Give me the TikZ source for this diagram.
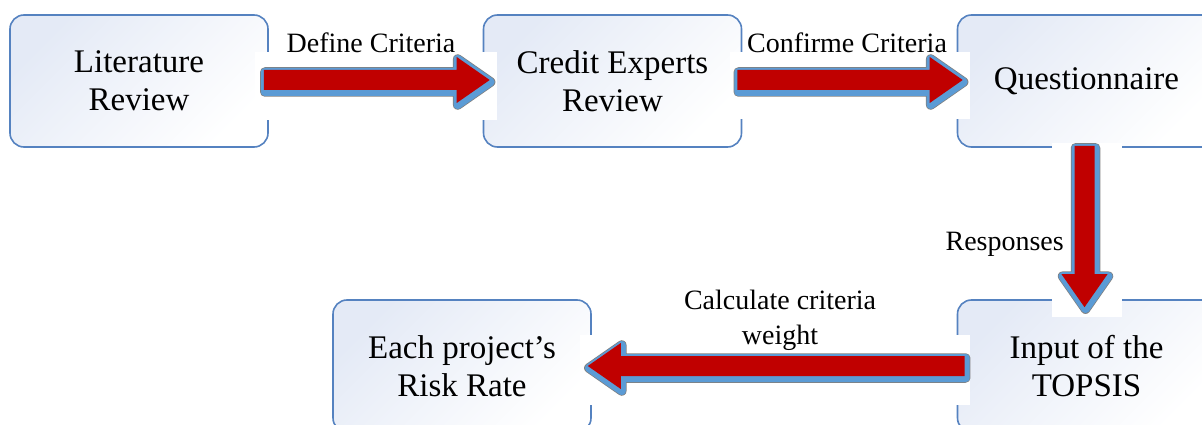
\documentclass[tikz,border=0pt]{standalone}
\usepackage{fontspec}
\setmainfont{Liberation Serif}
\usetikzlibrary{calc}

\definecolor{boxline}{RGB}{85,130,192}
\definecolor{boxtint}{RGB}{228,234,246}
\definecolor{arrowred}{RGB}{192,0,0}
\definecolor{arrowblue}{RGB}{91,155,213}
\definecolor{arrowring}{RGB}{128,128,128}

% block arrow geometry
\def\arwShaft{10pt}
\def\arwHeadHalf{23pt}
\def\arwHeadLen{33pt}

% outline of a block arrow: #1 tail centre, #2 tip, #3 centre of the head base
\newcommand\arwPoly[3]{($(#1)!\arwShaft!90:(#2)$) -- ($(#3)!\arwShaft!90:(#2)$)
  -- ($(#3)!\arwHeadHalf!90:(#2)$) -- (#2) -- ($(#3)!\arwHeadHalf!-90:(#2)$)
  -- ($(#3)!\arwShaft!-90:(#2)$) -- ($(#1)!\arwShaft!-90:(#2)$) -- cycle}

% red block arrow with a blue drop shadow, from #1 to #2
\newcommand\blockarrow[2]{%
  \coordinate (arw-st) at ($(#1)+(1,2)$);
  \coordinate (arw-sp) at ($(#2)+(1,2)$);
  \coordinate (arw-sb) at ($(arw-sp)!\arwHeadLen!(arw-st)$);
  \coordinate (arw-b) at ($(#2)!\arwHeadLen!(#1)$);
  \filldraw[fill=arrowring, draw=arrowring, line width=9.5pt, line join=round] \arwPoly{arw-st}{arw-sp}{arw-sb};
  \filldraw[fill=arrowblue, draw=arrowblue, line width=8pt, line join=round] \arwPoly{arw-st}{arw-sp}{arw-sb};
  \fill[arrowred] \arwPoly{#1}{#2}{arw-b};
}

\tikzset{
  box/.style={draw=boxline, line width=1.6pt, rounded corners=14pt,
    minimum width=258pt, minimum height=132pt, align=center,
    font=\fontsize{33}{38}\selectfont,
    left color=boxtint, right color=white, shading angle=45},
  lbl/.style={align=center, inner sep=0pt, font=\fontsize{28}{35}\selectfont},
  gap/.style={fill=white}
}

\begin{document}
\begin{tikzpicture}[x=1pt, y=-1pt]
  \path[use as bounding box] (0,0) rectangle (1202,425);
  \clip (0,0) rectangle (1202,425);

  % process steps
  \node[box] (lit)    at (139,81)    {Literature\\Review};
  \node[box] (credit) at (612.5,81)  {Credit Experts\\Review};
  \node[box] (quest)  at (1086.5,81) {Questionnaire};
  \node[box] (topsis) at (1086.5,366) {Input of the\\TOPSIS};
  \node[box] (risk)   at (462,366)   {Each project’s\\Risk Rate};

  % white gaps in the borders where the arrows pass
  \fill[gap] (255,52) rectangle (497,120);
  \fill[gap] (730,52) rectangle (970,119);
  \fill[gap] (1052,143) rectangle (1122,317);
  \fill[gap] (580,335) rectangle (970,405);

  % arrow end points
  \coordinate (a1s) at ($(lit.east)+(-5,-1)$);
  \coordinate (a1e) at ($(credit.west)+(7,-1)$);
  \coordinate (a2s) at ($(credit.east)+(-5,-1)$);
  \coordinate (a2e) at ($(quest.west)+(6,-1)$);
  \coordinate (a3s) at ($(quest.south)+(-2,-2)$);
  \coordinate (a3e) at ($(topsis.north)+(-2,8)$);
  \coordinate (a4s) at ($(topsis.west)+(8,0)$);
  \coordinate (a4e) at ($(risk.east)+(-4,0)$);

  \blockarrow{a1s}{a1e}
  \blockarrow{a2s}{a2e}
  \blockarrow{a3s}{a3e}
  \blockarrow{a4s}{a4e}

  % arrow labels
  \node[lbl] (l1) at (371,43) {Define Criteria};
  \node[lbl] (l2) at (847,43) {Confirme Criteria};
  \node[lbl, anchor=east] (l3) at (1064,244) {Responses};
  \node[lbl] (l4) at (780,320) {Calculate criteria\\weight};
\end{tikzpicture}
\end{document}
